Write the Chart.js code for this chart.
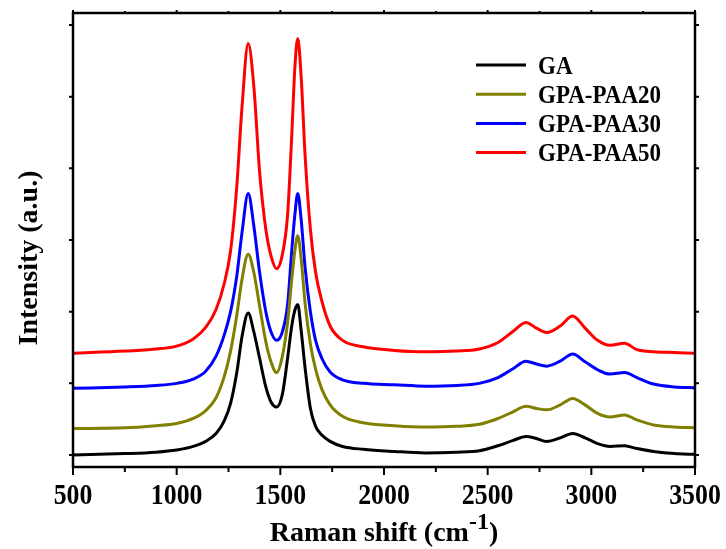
<!DOCTYPE html>
<html>
<head>
<meta charset="utf-8">
<title>Raman spectra</title>
<script src="https://cdn.jsdelivr.net/npm/chart.js@4.4.1/dist/chart.umd.min.js"></script>
<style>
  html, body { margin: 0; padding: 0; background: #fff; }
  #wrap { width: 726px; height: 549px; }
</style>
</head>
<body>
<div id="wrap"><canvas id="chart"></canvas></div>
<script>
const ramanShift = [500, 750, 900, 1000, 1080, 1140, 1190, 1230, 1260, 1290, 1315, 1345, 1372,
  1400, 1430, 1455, 1482, 1510, 1535, 1555, 1570, 1584, 1600, 1620, 1645, 1670, 1700, 1740,
  1800, 1900, 2050, 2200, 2350, 2460, 2550, 2620, 2685, 2735, 2785, 2850, 2910, 2970, 3030,
  3090, 3160, 3220, 3300, 3400, 3500];

// intensities (a.u., stacked offsets as in the figure)
const gaValues = [0.00, 0.02, 0.04, 0.07, 0.12, 0.19, 0.30, 0.48, 0.72, 1.15, 1.65, 1.98, 1.72,
  1.35, 0.95, 0.74, 0.67, 0.85, 1.35, 1.80, 2.02, 2.10, 1.75, 1.20, 0.65, 0.40, 0.28, 0.19,
  0.12, 0.08, 0.05, 0.03, 0.04, 0.06, 0.13, 0.20, 0.26, 0.23, 0.19, 0.24, 0.30, 0.24, 0.16,
  0.12, 0.13, 0.09, 0.05, 0.02, 0.01];
const paa20Values = [0.37, 0.38, 0.41, 0.44, 0.51, 0.62, 0.80, 1.10, 1.45, 1.95, 2.45, 2.80, 2.55,
  2.08, 1.58, 1.30, 1.15, 1.38, 1.85, 2.45, 2.85, 3.06, 2.75, 2.10, 1.55, 1.20, 0.92, 0.70,
  0.54, 0.45, 0.41, 0.39, 0.40, 0.43, 0.51, 0.60, 0.68, 0.65, 0.63, 0.70, 0.79, 0.70, 0.58,
  0.53, 0.56, 0.49, 0.42, 0.39, 0.38];
const paa30Values = [0.93, 0.95, 0.97, 1.00, 1.06, 1.17, 1.38, 1.68, 2.00, 2.50, 3.10, 3.65, 3.20,
  2.55, 2.00, 1.72, 1.60, 1.72, 2.10, 2.85, 3.35, 3.65, 3.30, 2.60, 2.00, 1.60, 1.35, 1.16,
  1.05, 1.00, 0.98, 0.96, 0.97, 1.00, 1.08, 1.20, 1.31, 1.27, 1.24, 1.31, 1.41, 1.30, 1.19,
  1.13, 1.15, 1.08, 0.99, 0.95, 0.94];
const paa50Values = [1.42, 1.45, 1.48, 1.52, 1.62, 1.78, 2.03, 2.40, 2.85, 3.75, 4.85, 5.74, 5.15,
  3.95, 3.15, 2.78, 2.60, 2.80, 3.35, 4.45, 5.40, 5.81, 5.30, 4.15, 3.15, 2.55, 2.15, 1.80,
  1.60, 1.51, 1.46, 1.44, 1.45, 1.48, 1.57, 1.72, 1.85, 1.77, 1.71, 1.80, 1.94, 1.77, 1.60,
  1.53, 1.56, 1.47, 1.44, 1.43, 1.42];

const seriesLabels = ['GA', 'GPA-PAA20', 'GPA-PAA30', 'GPA-PAA50'];
const xMajorTicks = [500, 1000, 1500, 2000, 2500, 3000, 3500];
const xMinorTicks = [750, 1250, 1750, 2250, 2750, 3250];
const yTicks = [0, 1, 2, 3, 4, 5, 6];

const seriesColors = ['#000000', '#808000', '#0000ff', '#ff0000'];
const FONT = '"Liberation Serif", "Times New Roman", serif';

function toPoints(values) {
  return ramanShift.map((x, i) => ({ x: x, y: values[i] }));
}

// draw text squeezed horizontally, like the narrow bold labels of the figure
function squeezedText(ctx, text, x, y, scaleX, align) {
  ctx.save();
  ctx.translate(x, y);
  ctx.scale(scaleX, 1);
  ctx.textAlign = align;
  ctx.fillText(text, 0, 0);
  ctx.restore();
}

// frame, ticks, labels, titles and legend
const framePlugin = {
  id: 'frame',
  afterDraw(chart) {
    const ctx = chart.ctx;
    const area = chart.chartArea;
    const xs = chart.scales.x;
    const ys = chart.scales.y;
    ctx.save();
    ctx.strokeStyle = '#000';
    ctx.fillStyle = '#000';

    // ticks
    ctx.lineWidth = 2;
    ctx.beginPath();
    xMajorTicks.forEach(v => {
      const px = xs.getPixelForValue(v);
      ctx.moveTo(px, area.bottom); ctx.lineTo(px, area.bottom + 8);
      ctx.moveTo(px, area.top); ctx.lineTo(px, area.top - 3);
    });
    xMinorTicks.forEach(v => {
      const px = xs.getPixelForValue(v);
      ctx.moveTo(px, area.bottom); ctx.lineTo(px, area.bottom + 5);
      ctx.moveTo(px, area.top); ctx.lineTo(px, area.top - 2);
    });
    yTicks.forEach(v => {
      const py = ys.getPixelForValue(v);
      ctx.moveTo(area.left, py); ctx.lineTo(area.left - 4, py);
      ctx.moveTo(area.right, py); ctx.lineTo(area.right + 4, py);
    });
    ctx.stroke();

    // frame
    ctx.lineWidth = 2.5;
    ctx.strokeRect(area.left, area.top, area.right - area.left, area.bottom - area.top);

    // x tick labels
    ctx.font = 'bold 30px ' + FONT;
    ctx.textBaseline = 'alphabetic';
    xMajorTicks.forEach(v => {
      squeezedText(ctx, String(v), xs.getPixelForValue(v), area.bottom + 37, 0.86, 'center');
    });

    // x title with superscript
    const mainFont = 'bold 28px ' + FONT;
    const supFont = 'bold 24px ' + FONT;
    const part1 = 'Raman shift (cm';
    const sup = '-1';
    const part3 = ')';
    ctx.font = mainFont;
    const w1 = ctx.measureText(part1).width;
    const w3 = ctx.measureText(part3).width;
    ctx.font = supFont;
    const w2 = ctx.measureText(sup).width;
    let tx = (area.left + area.right) / 2 - (w1 + w2 + w3) / 2;
    const baseY = 541;
    ctx.textAlign = 'left';
    ctx.font = mainFont;
    ctx.fillText(part1, tx, baseY);
    tx += w1;
    ctx.font = supFont;
    ctx.fillText(sup, tx, baseY - 12);
    tx += w2;
    ctx.font = mainFont;
    ctx.fillText(part3, tx, baseY);

    // y title
    ctx.save();
    ctx.translate(37, 258);
    ctx.rotate(-Math.PI / 2);
    ctx.textAlign = 'center';
    ctx.font = mainFont;
    ctx.fillText('Intensity (a.u.)', 0, 0);
    ctx.restore();

    // legend
    ctx.font = 'bold 25px ' + FONT;
    chart.data.datasets.forEach((ds, i) => {
      const ly = 65 + i * 29.2;
      ctx.strokeStyle = ds.borderColor;
      ctx.lineWidth = 3;
      ctx.beginPath();
      ctx.moveTo(476, ly);
      ctx.lineTo(526, ly);
      ctx.stroke();
      ctx.fillStyle = '#000';
      squeezedText(ctx, ds.label, 538, ly + 8.5, 0.92, 'left');
    });

    ctx.restore();
  }
};

const ctx = document.getElementById('chart').getContext('2d');
new Chart(ctx, {
  type: 'line',
  data: {
    datasets: [gaValues, paa20Values, paa30Values, paa50Values].map((vals, i) => ({
      label: seriesLabels[i],
      data: toPoints(vals),
      borderColor: seriesColors[i],
      backgroundColor: seriesColors[i],
      borderWidth: 3,
      pointRadius: 0,
      fill: false,
      cubicInterpolationMode: 'monotone'
    }))
  },
  options: {
    responsive: true,
    maintainAspectRatio: false,
    animation: false,
    layout: { padding: { left: 73, right: 31, top: 13, bottom: 82 } },
    plugins: {
      legend: { display: false },
      tooltip: { enabled: false }
    },
    scales: {
      x: { type: 'linear', min: 500, max: 3500, display: false },
      y: { type: 'linear', min: -0.167, max: 6.167, display: false }
    }
  },
  plugins: [framePlugin]
});
</script>
</body>
</html>
